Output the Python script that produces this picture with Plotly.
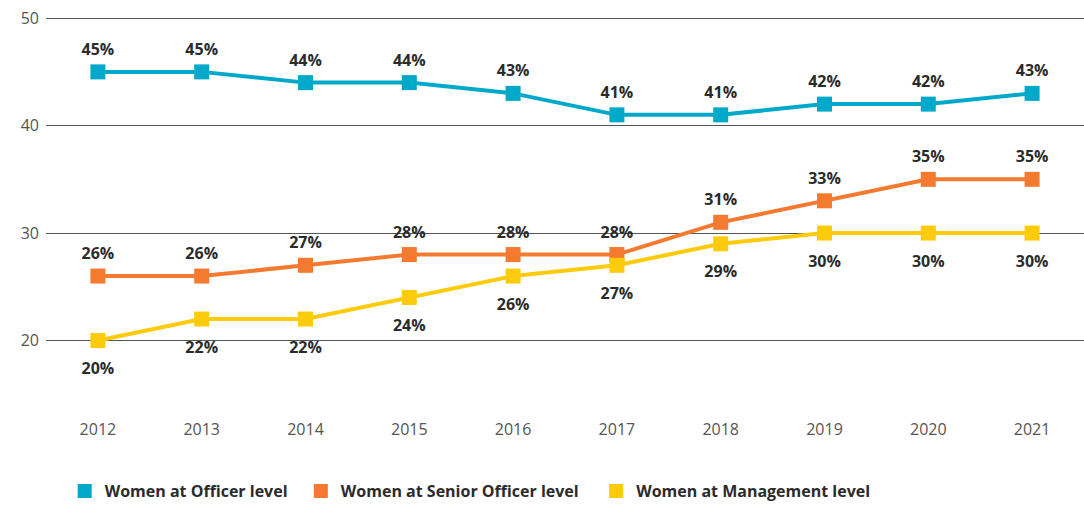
import plotly.graph_objects as go

years = ["2012", "2013", "2014", "2015", "2016", "2017", "2018", "2019", "2020", "2021"]
officer = [45, 45, 44, 44, 43, 41, 41, 42, 42, 43]
senior = [26, 26, 27, 28, 28, 28, 31, 33, 35, 35]
management = [20, 22, 22, 24, 26, 27, 29, 30, 30, 30]
names = ["Women at Officer level", "Women at Senior Officer level", "Women at Management level"]
colors = ["#00A9C9", "#F47A2F", "#FCCB0B"]
label_pos = ["top center", "top center", "bottom center"]
y_ticks = [20, 30, 40, 50]

fig = go.Figure()
for name, vals, col, pos in zip(names, [officer, senior, management], colors, label_pos):
    fig.add_trace(go.Scatter(
        x=years, y=vals, mode="lines+markers", name=name, showlegend=False,
        line=dict(color=col, width=4),
        marker=dict(symbol="square", size=15, color=col),
    ))
    fig.add_trace(go.Scatter(
        x=years, y=vals, mode="markers+text", showlegend=False, hoverinfo="skip",
        marker=dict(size=19 if pos.startswith("top") else 33, color="rgba(0,0,0,0)"),
        text=[f"<b>{v}%</b>" for v in vals], textposition=pos,
        textfont=dict(family="Open Sans", size=16, color="#2b2b2b"),
    ))
pads = ["&nbsp;&nbsp;", "&nbsp;&nbsp;&nbsp;", ""]
for name, col, pad in zip(names, colors, pads):
    fig.add_trace(go.Scatter(
        x=[None], y=[None], mode="markers", name=f"<b>{name}</b>{pad}",
        marker=dict(symbol="square", size=14, color=col),
    ))

fig.update_layout(
    width=1084, height=508,
    margin=dict(l=46, r=0, t=16, b=100),
    plot_bgcolor="white", paper_bgcolor="white",
    xaxis=dict(
        type="category", range=[-0.5, 9.5], showgrid=False, zeroline=False,
        showline=False, ticks="", automargin=False,
        tickfont=dict(family="Open Sans", size=16, color="#555555"),
        ticklabelstandoff=10,
    ),
    yaxis=dict(
        range=[13.72, 50.2], tickvals=y_ticks, showgrid=True, gridcolor="#555555", gridwidth=1,
        zeroline=False, showline=False, ticks="", automargin=False,
        tickfont=dict(family="Open Sans", size=16, color="#555555"),
        ticklabelstandoff=6,
    ),
    legend=dict(
        orientation="h", x=0.018, y=0, yref="container", xanchor="left", yanchor="bottom",
        font=dict(family="Open Sans", size=16, color="#2b2b2b"),
        itemwidth=30, traceorder="normal",
    ),
)

fig.write_html("out.html", config={"displayModeBar": False},
               post_script="document.body.style.margin='0';")
